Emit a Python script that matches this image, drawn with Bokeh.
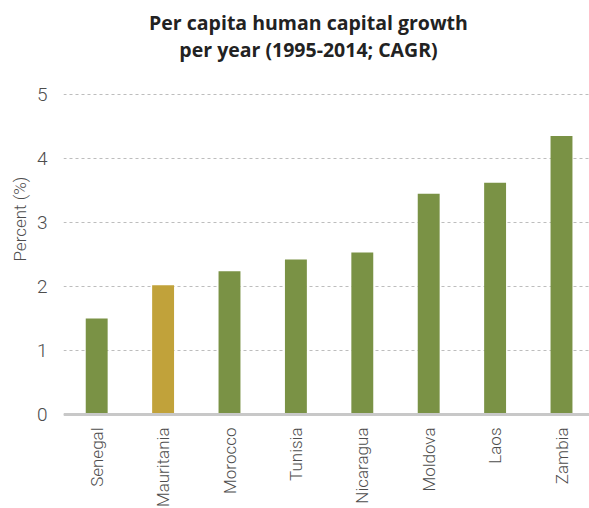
import math
from bokeh.plotting import figure
from bokeh.models import Range1d, FixedTicker, Span, Title, Label, ColumnDataSource
from bokeh.core.properties import value
from bokeh.embed import file_html
from bokeh.resources import INLINE

countries = ["Senegal", "Mauritania", "Morocco", "Tunisia", "Nicaragua", "Moldova", "Laos", "Zambia"]
growth = [1.50, 2.02, 2.24, 2.42, 2.53, 3.45, 3.62, 4.35]
bar_colors = ["#7a9245", "#c1a23a", "#7a9245", "#7a9245", "#7a9245", "#7a9245", "#7a9245", "#7a9245"]
y_ticks = [0, 1, 2, 3, 4, 5]
title_lines = ["Per capita human capital growth", "per year (1995-2014; CAGR)"]
y_label = "Percent (%)"

LIGHT = "'Roboto Light', Roboto, sans-serif"
GREY = "#4d4d4d"

# layout (pixels)
FIG_W, FIG_H = 589, 508
LEFT = 63            # frame left edge
ZERO_PX = 414        # y position of the zero line
PX_PER_UNIT = 64.0   # vertical scale
STEP_PX = 66.4       # horizontal spacing between categories
YLABEL_BOTTOM = 256  # where the rotated y label starts

y_end = ZERO_PX / PX_PER_UNIT
y_start = -(FIG_H - ZERO_PX) / PX_PER_UNIT
x_start = -0.5
x_end = x_start + (FIG_W - LEFT) / STEP_PX

xs = list(range(len(countries)))
src = ColumnDataSource(dict(x=xs, top=growth, color=bar_colors, name=countries))

p = figure(width=FIG_W, height=FIG_H, output_backend="svg", toolbar_location=None,
           x_range=Range1d(x_start, x_end), y_range=Range1d(y_start, y_end),
           min_border_left=LEFT, min_border_right=0, min_border_top=0, min_border_bottom=0)
p.outline_line_color = None
p.background_fill_color = "white"
p.border_fill_color = "white"
p.title.text = ""
p.title.visible = False

p.vbar(x="x", top="top", bottom=0, width=0.33, color="color", line_color=None, source=src)

p.add_layout(Span(location=0, dimension="width", line_color="#c8c8c8", line_width=3))

# category labels under the baseline
p.text(x="x", y=0, text="name", source=src, angle=math.pi / 2, y_offset=13,
       text_align="right", text_baseline="middle", text_font=value(LIGHT),
       text_font_size="17px", text_color=GREY)

p.xaxis.visible = False
p.xgrid.grid_line_color = None
p.ygrid.ticker = FixedTicker(ticks=y_ticks)
p.ygrid.grid_line_color = "#bdbdbd"
p.ygrid.grid_line_dash = "3 3"
p.ygrid.grid_line_width = 1

p.yaxis.ticker = FixedTicker(ticks=y_ticks)
p.yaxis.axis_line_color = None
p.yaxis.major_tick_line_color = None
p.yaxis.minor_tick_line_color = None
p.yaxis.major_label_text_font = LIGHT
p.yaxis.major_label_text_font_size = "19px"
p.yaxis.major_label_text_color = GREY
p.yaxis.major_label_standoff = 10

# y-axis title as a side title, starting at a chosen height
p.add_layout(Title(text=y_label, align="left", offset=FIG_H - YLABEL_BOTTOM - 5, standoff=8,
                   text_font=LIGHT, text_font_size="17px", text_font_style="normal",
                   text_color=GREY), "left")

# chart title lines, placed in screen units
TITLE_CX = 308
for line, cy in zip(title_lines, [22, 49]):
    p.add_layout(Label(x=TITLE_CX - LEFT, y=FIG_H - cy, x_units="screen", y_units="screen",
                       text=line, text_align="center", text_baseline="middle",
                       text_font="Open Sans", text_font_style="bold",
                       text_font_size="19.5px", text_color="#222222"))

open("out.html", "w").write(file_html(p, INLINE))
